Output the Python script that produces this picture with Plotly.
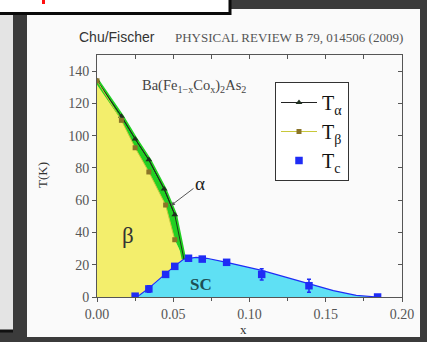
import plotly.graph_objects as go

# ---- data: Ba(Fe1-xCox)2As2 phase diagram ----
# structural transition T_alpha (triangles)
x_alpha = [0.0, 0.016, 0.025, 0.034, 0.044, 0.051]
t_alpha = [134, 112, 98, 85, 67, 51]
# magnetic transition T_beta (squares)
x_beta = [0.0, 0.016, 0.025, 0.034, 0.045, 0.051]
t_beta = [134, 109.5, 92.5, 77.5, 57, 35.5]
# point where both transition lines meet the superconducting dome
x_meet = [0.057]
t_meet = [23.5]
# superconducting Tc with error bars
x_c = [0.025, 0.034, 0.045, 0.051, 0.060, 0.069, 0.085, 0.108, 0.139, 0.184]
t_c = [0.5, 5, 14, 19, 24, 23.5, 21.5, 14, 7, 0]
err_c = [0.5, 2, 1.5, 1, 1, 1, 1.5, 3.5, 4, 0.5]
# smooth boundary of the superconducting dome
x_dome = [0.025, 0.028, 0.034, 0.040, 0.045, 0.051, 0.057, 0.065, 0.072, 0.085, 0.108, 0.139, 0.155, 0.170, 0.184]
t_dome = [0, 1.2, 5.5, 10.5, 14.5, 19.3, 23.5, 24.5, 24, 21.5, 16.5, 8.5, 4, 1, 0]

# plot-area geometry in pixels
W, H = 427, 342
L, R, T, B = 97, 402, 55, 297


def px(v):
    return (v - L) / (R - L)


def py(v):
    return (B - v) / (B - T)


YELLOW = "#f3ee6c"
GREEN = "#22d022"
CYAN = "#5fe0f4"
BLUE = "#1f2cf5"
SERIF = "Liberation Serif"

fig = go.Figure()

# beta region: left of T_beta and above the dome
lo = x_dome.index(x_meet[0])
yx = [0.0] + x_beta + x_meet + x_dome[:lo][::-1] + [0.0]
yt = [0.0] + t_beta + t_meet + t_dome[:lo][::-1] + [0.0]
fig.add_trace(go.Scatter(x=yx, y=yt, fill="toself", fillcolor=YELLOW,
                         line=dict(width=0), mode="lines",
                         showlegend=False, hoverinfo="skip"))

# alpha band between T_beta and T_alpha
gx = x_alpha + x_meet + (x_beta + x_meet)[::-1]
gt = t_alpha + t_meet + (t_beta + t_meet)[::-1]
fig.add_trace(go.Scatter(x=gx, y=gt, fill="toself", fillcolor=GREEN,
                         line=dict(width=0), mode="lines",
                         showlegend=False, hoverinfo="skip"))
fig.add_trace(go.Scatter(x=x_alpha + x_meet, y=t_alpha + t_meet, mode="lines",
                         line=dict(color=GREEN, width=4.5),
                         showlegend=False, hoverinfo="skip"))

# superconducting dome
fig.add_trace(go.Scatter(x=x_dome, y=t_dome, fill="tozeroy", fillcolor=CYAN,
                         mode="lines", line=dict(color=BLUE, width=1.2),
                         showlegend=False, hoverinfo="skip"))

# transition lines and symbols
fig.add_trace(go.Scatter(x=x_alpha + x_meet, y=t_alpha + t_meet, mode="lines",
                         line=dict(color="#1a3a1a", width=1),
                         showlegend=False, hoverinfo="skip"))
fig.add_trace(go.Scatter(x=x_alpha, y=t_alpha, mode="lines+markers",
                         name="T<sub>α</sub>",
                         line=dict(color="#222222", width=1),
                         marker=dict(symbol="triangle-up", size=6, color="#1f2f1f")))
fig.add_trace(go.Scatter(x=x_beta, y=t_beta, mode="lines+markers",
                         name="T<sub>β</sub>",
                         line=dict(color="#c8c83a", width=1),
                         marker=dict(symbol="square", size=5, color="#8a7428")))
fig.add_trace(go.Scatter(x=x_c, y=t_c, mode="markers", name="T<sub>c</sub>",
                         marker=dict(symbol="square", size=7.5, color=BLUE),
                         error_y=dict(type="data", array=err_c, color=BLUE,
                                      thickness=1.5, width=2)))
# empty trace so the top/right tick axes get drawn
fig.add_trace(go.Scatter(x=[], y=[], xaxis="x2", yaxis="y2",
                         showlegend=False, hoverinfo="skip"))

# frame of the photographed slide
shapes = [
    dict(type="rect", x0=px(27), x1=px(420), y0=py(337), y1=py(9),
         fillcolor="#fafafa", line=dict(width=0), layer="below"),
    dict(type="rect", x0=px(0), x1=px(13), y0=py(331), y1=py(15),
         fillcolor="#e4e4e4", line=dict(width=0), layer="below"),
    dict(type="line", x0=px(0), x1=px(13), y0=py(331), y1=py(331),
         line=dict(color="#111111", width=3), layer="below"),
    dict(type="rect", x0=px(-5), x1=px(230), y0=py(13.5), y1=py(-5),
         fillcolor="#ffffff", line=dict(color="#0a0a0a", width=3), layer="below"),
    dict(type="rect", x0=px(42), x1=px(45), y0=py(4), y1=py(0),
         fillcolor="#ff1010", line=dict(width=0), layer="below"),
]
for s in shapes:
    s["xref"] = "paper"
    s["yref"] = "paper"

ann = [
    dict(x=px(117), y=py(37), text="Chu/Fischer",
         font=dict(family="Liberation Sans", size=14, color="#333333")),
    dict(x=px(289), y=py(38), text="PHYSICAL REVIEW B 79, 014506 (2009)",
         font=dict(family=SERIF, size=13, color="#555555")),
    dict(x=px(42), y=py(175), text="T(K)", textangle=-90,
         font=dict(family=SERIF, size=13, color="#333333")),
    dict(x=px(243), y=py(329), text="x",
         font=dict(family=SERIF, size=13, color="#333333")),
    dict(x=px(140), y=py(86), xanchor="left",
         text="Ba(Fe<sub>1−x</sub>Co<sub>x</sub>)<sub>2</sub>As<sub>2</sub>",
         font=dict(family=SERIF, size=14.5, color="#444444")),
    dict(x=px(128), y=py(235), text="β",
         font=dict(family=SERIF, size=23, color="#333333")),
    dict(x=px(201), y=py(284), text="<b>SC</b>",
         font=dict(family=SERIF, size=17, color="#1d4f55")),
]
for a in ann:
    a.setdefault("xref", "paper")
    a.setdefault("yref", "paper")
    a.setdefault("xanchor", "center")
    a.setdefault("yanchor", "middle")
    a["showarrow"] = False

ann.append(dict(x=0.0485, y=56.7, xref="x", yref="y", text="α", showarrow=True,
                ax=29, ay=-22, arrowhead=2, arrowsize=0.8, arrowwidth=1,
                arrowcolor="#555555",
                font=dict(family=SERIF, size=19, color="#222222")))

axis_common = dict(showline=True, linecolor="#555555", linewidth=1, mirror=True,
                   showgrid=False, zeroline=False, ticks="outside", ticklen=4,
                   tickcolor="#555555",
                   tickfont=dict(family=SERIF, size=14, color="#555555"))

fig.update_layout(
    width=W, height=H,
    margin=dict(l=L, r=W - R, t=T, b=H - B),
    paper_bgcolor="#3b3b3b",
    plot_bgcolor="rgba(0,0,0,0)",
    shapes=shapes,
    annotations=ann,
    xaxis=dict(range=[0, 0.2], tickvals=[0, 0.05, 0.10, 0.15, 0.20],
               ticktext=["0.00", "0.05", "0.10", "0.15", "0.20"],
               minor=dict(dtick=0.025, ticks="outside", ticklen=3, tickcolor="#555555"),
               **axis_common),
    yaxis=dict(range=[0, 150], dtick=20, **axis_common),
    xaxis2=dict(overlaying="x", side="top", range=[0, 0.2], anchor="y2",
                dtick=0.025, ticks="inside", ticklen=4, tickcolor="#555555",
                showticklabels=False, showgrid=False, zeroline=False, showline=False),
    yaxis2=dict(overlaying="y", side="right", range=[0, 150], anchor="x2",
                dtick=20, ticks="inside", ticklen=4, tickcolor="#555555",
                showticklabels=False, showgrid=False, zeroline=False, showline=False),
    legend=dict(x=px(275), y=py(82), xanchor="left", yanchor="top",
                bgcolor="#ffffff", bordercolor="#333333", borderwidth=1,
                font=dict(family=SERIF, size=20, color="#111111"),
                itemwidth=36, tracegroupgap=0),
    showlegend=True,
)

fig.write_html("out.html")
